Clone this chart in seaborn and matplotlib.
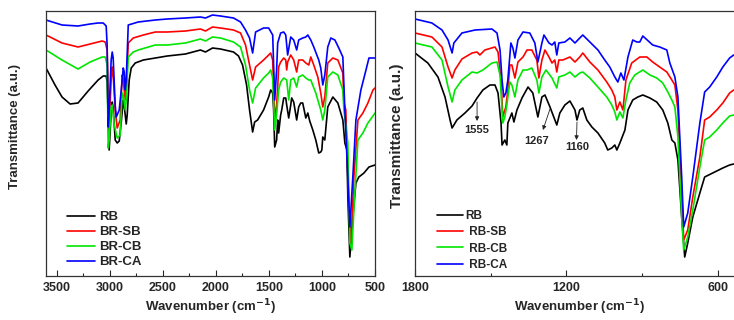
import matplotlib
matplotlib.use('Agg')
import matplotlib.pyplot as plt
from matplotlib.ticker import AutoMinorLocator
import pandas as pd
import seaborn as sns

# ---- left panel: full range spectra (wavenumber, transmittance a.u.) ----
left_wn_rb = [3600, 3515, 3449, 3373, 3298, 3203, 3109, 3061, 3033, 3024, 3005, 2986, 2976, 2967, 2948, 2929, 2910, 2891, 2872, 2863,
              2844, 2835, 2816, 2797, 2759, 2683, 2570, 2457, 2286, 2145, 2097, 2031, 1956, 1833, 1786, 1748, 1710, 1682, 1653, 1634,
              1606, 1550, 1502, 1483, 1464, 1455, 1445, 1427, 1417, 1408, 1389, 1379, 1360, 1341, 1332, 1313, 1294, 1285, 1266, 1238,
              1219, 1200, 1181, 1152, 1133, 1115, 1086, 1058, 1030, 1011, 1001, 992, 973, 945, 897, 850, 803, 784, 765, 756,
              737, 709, 680, 652, 604, 557, 500]
left_t_rb = [208, 191, 179, 172, 173, 185, 196, 200, 200, 194, 126, 164, 174, 168, 136, 133, 135, 154, 176, 170,
             152, 161, 196, 208, 213, 216, 218, 220, 222, 226, 224, 228, 227, 224, 220, 211, 191, 166, 144, 154,
             156, 166, 179, 186, 183, 166, 129, 136, 156, 143, 161, 166, 178, 178, 171, 158, 171, 178, 174, 156,
             169, 173, 173, 158, 163, 155, 146, 136, 123, 124, 126, 139, 136, 169, 179, 173, 156, 133, 126, 79,
             19, 59, 93, 99, 103, 109, 111]

left_wn_sb = [3600, 3449, 3298, 3184, 3071, 3042, 3024, 3005, 2986, 2976, 2967, 2948, 2929, 2901, 2882, 2872, 2853, 2844, 2825, 2778,
              2683, 2570, 2457, 2286, 2145, 2097, 2031, 1956, 1833, 1767, 1720, 1682, 1653, 1625, 1550, 1502, 1483, 1464, 1445, 1427,
              1417, 1408, 1389, 1360, 1341, 1332, 1323, 1294, 1266, 1238, 1219, 1181, 1152, 1124, 1105, 1077, 1039, 1011, 992, 973,
              945, 897, 850, 803, 793, 775, 746, 727, 699, 661, 614, 567, 519, 500]
left_t_sb = [241, 233, 229, 232, 235, 234, 226, 151, 196, 209, 201, 166, 148, 156, 201, 196, 176, 186, 233, 238,
             241, 244, 244, 245, 247, 245, 249, 248, 246, 243, 231, 211, 196, 209, 216, 221, 223, 216, 156, 171,
             189, 209, 214, 218, 216, 206, 214, 221, 216, 204, 216, 216, 213, 211, 219, 211, 199, 183, 169, 179,
             213, 218, 216, 203, 173, 166, 66, 33, 99, 156, 163, 173, 186, 188]

left_wn_cb = [3600, 3449, 3298, 3184, 3071, 3042, 3024, 3014, 3005, 2986, 2976, 2957, 2929, 2901, 2882, 2872, 2853, 2844, 2825, 2778,
              2731, 2570, 2457, 2286, 2145, 2097, 2031, 1956, 1833, 1767, 1720, 1682, 1653, 1625, 1550, 1502, 1483, 1464, 1445, 1427,
              1408, 1389, 1360, 1332, 1313, 1294, 1266, 1238, 1219, 1181, 1152, 1124, 1105, 1058, 1011, 992, 973, 945, 897, 850,
              803, 793, 756, 737, 718, 699, 661, 614, 567, 519, 500]
left_t_cb = [226, 216, 207, 214, 219, 219, 211, 128, 136, 169, 171, 151, 138, 141, 183, 181, 166, 176, 219, 224,
             226, 231, 231, 233, 237, 235, 239, 238, 234, 229, 211, 186, 173, 188, 198, 203, 206, 198, 146, 161,
             186, 194, 198, 196, 176, 196, 198, 189, 199, 201, 198, 196, 196, 183, 166, 156, 166, 199, 204, 201,
             186, 166, 133, 33, 26, 66, 136, 143, 153, 160, 163]

left_wn_ca = [3600, 3449, 3298, 3184, 3109, 3061, 3033, 3024, 3014, 3005, 2986, 2976, 2967, 2948, 2938, 2910, 2891, 2872, 2863, 2853,
              2844, 2825, 2731, 2570, 2457, 2286, 2145, 2097, 2031, 1956, 1833, 1767, 1720, 1682, 1653, 1625, 1550, 1502, 1464, 1445,
              1427, 1417, 1389, 1360, 1341, 1323, 1294, 1266, 1238, 1219, 1181, 1152, 1133, 1105, 1077, 1030, 1011, 992, 973, 945,
              916, 878, 841, 803, 784, 756, 737, 709, 680, 633, 585, 557, 510, 500]
left_t_ca = [256, 251, 250, 252, 253, 253, 250, 231, 149, 166, 216, 224, 218, 171, 159, 166, 186, 208, 204, 186,
             196, 251, 254, 256, 257, 258, 259, 258, 261, 260, 258, 254, 246, 238, 223, 244, 248, 248, 241, 176,
             206, 233, 243, 244, 241, 221, 239, 236, 226, 236, 238, 239, 241, 236, 229, 216, 208, 191, 201, 229,
             238, 236, 228, 219, 166, 99, 49, 99, 156, 186, 206, 218, 218, 218]

# ---- right panel: 1800-540 region ----
right_wn_rb = [1800, 1749, 1709, 1681, 1661, 1653, 1634, 1602, 1574, 1554, 1531, 1503, 1483, 1471, 1459, 1455, 1444, 1436, 1432, 1416,
               1408, 1396, 1376, 1352, 1333, 1313, 1297, 1285, 1265, 1238, 1226, 1206, 1186, 1166, 1158, 1147, 1135, 1119, 1099, 1075,
               1048, 1036, 1020, 1008, 1000, 988, 968, 956, 937, 917, 897, 869, 842, 818, 798, 782, 770, 758, 743, 731,
               719, 699, 671, 652, 620, 580, 553, 537]
right_t_rb = [223, 213, 199, 179, 156, 148, 156, 163, 170, 178, 186, 191, 191, 183, 153, 131, 136, 131, 153, 163,
              154, 166, 178, 189, 183, 159, 179, 181, 169, 151, 163, 171, 175, 166, 156, 166, 168, 156, 149, 143,
              133, 126, 128, 131, 126, 133, 146, 166, 176, 179, 181, 178, 174, 166, 153, 136, 133, 116, 59, 19,
              33, 59, 83, 99, 103, 108, 111, 112]

right_wn_sb = [1800, 1733, 1693, 1669, 1653, 1642, 1614, 1574, 1554, 1543, 1523, 1483, 1471, 1459, 1452, 1440, 1432, 1424, 1416, 1404,
               1392, 1372, 1356, 1337, 1317, 1309, 1297, 1285, 1269, 1257, 1246, 1238, 1230, 1214, 1186, 1166, 1147, 1135, 1107, 1075,
               1040, 1020, 1008, 1000, 988, 976, 964, 941, 909, 881, 858, 830, 802, 782, 770, 758, 743, 735, 719, 699,
               671, 652, 632, 604, 580, 553, 537]
right_t_sb = [243, 239, 229, 209, 198, 206, 217, 223, 224, 221, 226, 229, 224, 196, 159, 169, 186, 211, 211, 198,
              214, 219, 226, 226, 216, 198, 216, 226, 219, 213, 216, 204, 216, 216, 219, 214, 219, 223, 214, 206,
              194, 186, 179, 166, 174, 166, 196, 213, 219, 219, 214, 209, 204, 196, 191, 166, 83, 36, 46, 79,
              119, 156, 159, 166, 173, 183, 186]

right_wn_cb = [1800, 1733, 1693, 1669, 1653, 1642, 1614, 1574, 1554, 1531, 1495, 1475, 1463, 1452, 1444, 1436, 1424, 1416, 1404, 1392,
               1372, 1356, 1337, 1317, 1309, 1297, 1281, 1257, 1238, 1230, 1206, 1186, 1166, 1147, 1135, 1107, 1075, 1040, 1020, 1008,
               1000, 988, 976, 964, 949, 929, 897, 869, 842, 818, 798, 782, 770, 758, 743, 735, 719, 699, 671, 652,
               632, 604, 580, 553, 537]
right_t_cb = [233, 229, 216, 189, 174, 186, 196, 204, 203, 206, 213, 214, 201, 153, 159, 171, 194, 191, 179, 196,
              206, 206, 208, 196, 183, 199, 206, 198, 188, 199, 201, 204, 199, 203, 204, 198, 189, 179, 171, 164,
              156, 164, 158, 176, 193, 201, 206, 201, 198, 193, 184, 176, 169, 139, 59, 26, 39, 66, 109, 136,
              139, 146, 153, 160, 161]

right_wn_ca = [1800, 1733, 1693, 1669, 1653, 1646, 1614, 1562, 1495, 1475, 1463, 1455, 1448, 1440, 1432, 1420, 1412, 1404, 1392, 1372,
               1345, 1325, 1313, 1297, 1289, 1269, 1257, 1246, 1238, 1230, 1206, 1186, 1166, 1147, 1135, 1107, 1075, 1048, 1028, 1008,
               996, 984, 972, 956, 937, 921, 909, 897, 858, 830, 802, 790, 770, 758, 743, 735, 719, 699, 671, 652,
               632, 604, 580, 553, 537]
right_t_ca = [257, 253, 246, 236, 223, 233, 243, 246, 247, 243, 226, 196, 179, 183, 196, 233, 228, 218, 236, 244,
              243, 233, 214, 233, 241, 233, 231, 234, 221, 233, 234, 238, 233, 238, 241, 234, 226, 216, 209, 199,
              194, 203, 196, 219, 236, 234, 234, 240, 231, 229, 226, 213, 199, 179, 99, 49, 63, 99, 153, 184,
              189, 199, 209, 218, 221]

left_names = ['RB', 'BR-SB', 'BR-CB', 'BR-CA']
right_names = ['RB', ' RB-SB', ' RB-CB', ' RB-CA']
colors = ['#000000', '#ff0000', '#00e600', '#0000ff']

# peak labels on the right panel: text, text pos, arrow tail, arrow head
peak_labels = ['1555', '1267', '1160']
peak_text_xy = [(1554, 146), (1317, 135), (1158, 129)]
peak_tail = [(1554, 174), (1265, 167), (1158, 154)]
peak_head = [(1554, 155), (1293, 146), (1160, 136)]


def long_frame(wns, ts, names):
    parts = [pd.DataFrame({'wn': w, 'T': t, 'sample': n}) for w, t, n in zip(wns, ts, names)]
    return pd.concat(parts, ignore_index=True)


df_left = long_frame([left_wn_rb, left_wn_sb, left_wn_cb, left_wn_ca],
                     [left_t_rb, left_t_sb, left_t_cb, left_t_ca], left_names)
df_right = long_frame([right_wn_rb, right_wn_sb, right_wn_cb, right_wn_ca],
                      [right_t_rb, right_t_sb, right_t_cb, right_t_ca], right_names)

sns.set_style('white')
plt.rcParams['font.family'] = ['Liberation Sans', 'DejaVu Sans']
plt.rcParams['font.weight'] = 'bold'
plt.rcParams['axes.labelweight'] = 'bold'
plt.rcParams['mathtext.default'] = 'bf'

W, H = 734, 320
fig = plt.figure(figsize=(W / 100, H / 100), dpi=100)
ax1 = fig.add_axes([46 / W, 44 / H, 329 / W, 265 / H])
ax2 = fig.add_axes([415 / W, 44 / H, 328 / W, 265 / H])

for ax, df, names in [(ax1, df_left, left_names), (ax2, df_right, right_names)]:
    sns.lineplot(data=df, x='wn', y='T', hue='sample', hue_order=names,
                 palette=colors, estimator=None, legend=False, lw=1.2, ax=ax)
    ax.set_ylim(0, 265)
    ax.set_yticks([])
    ax.set_xlabel('Wavenumber (cm$^{-1}$)', fontsize=9.5, va='center')
    ax.set_ylabel('Transmittance (a.u.)')
    ax.xaxis.set_minor_locator(AutoMinorLocator(2))
    ax.tick_params(axis='x', which='major', direction='in', length=4, width=0.8,
                   labelsize=9, pad=4, bottom=True)
    ax.tick_params(axis='x', which='minor', direction='in', length=2.5, width=0.8, bottom=True)
    for s in ax.spines.values():
        s.set_color('#333333')
        s.set_linewidth(0.9)
    ax.xaxis.set_label_coords(0.5, -0.118)

ax1.set_xlim(3600, 500)
ax1.set_xticks([3500, 3000, 2500, 2000, 1500, 1000, 500])
ax1.yaxis.label.set_fontsize(9.5)
ax1.yaxis.set_label_coords(-0.077, 0.566)

ax2.set_xlim(1800, 500)
ax2.set_xticks([1800, 1200, 600])
ax2.yaxis.label.set_fontsize(11)
ax2.yaxis.set_label_coords(-0.035, 0.528)

ax1.legend(ax1.get_lines()[:4], left_names, loc='upper left', bbox_to_anchor=(0.045, 0.27),
           frameon=False, borderpad=0, handlelength=2.1, handletextpad=0.3,
           labelspacing=0.21, prop={'weight': 'bold', 'size': 9.5})
ax2.legend(ax2.get_lines()[:4], right_names, loc='upper left', bbox_to_anchor=(0.05, 0.27),
           frameon=False, borderpad=0, handlelength=2.2, handletextpad=0.2,
           labelspacing=0.35, prop={'weight': 'bold', 'size': 8.5})

for lab, txy, tail, head in zip(peak_labels, peak_text_xy, peak_tail, peak_head):
    ax2.annotate('', xy=head, xytext=tail,
                 arrowprops=dict(arrowstyle='-|>', color='#222222', lw=0.6,
                                 mutation_scale=6, shrinkA=0, shrinkB=0))
    ax2.text(txy[0], txy[1], lab, ha='center', va='center', fontsize=8, fontweight='bold')

fig.savefig('out.png', dpi=100)
